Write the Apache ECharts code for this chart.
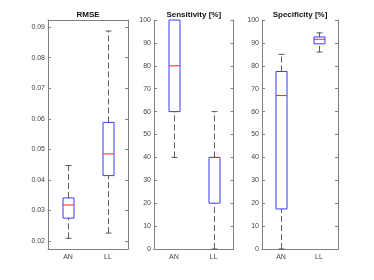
<!DOCTYPE html>
<html><head><meta charset="utf-8">
<script src="https://cdn.jsdelivr.net/npm/echarts@6/dist/echarts.min.js"></script>
<style>html,body{margin:0;padding:0;background:#fff}#c{width:374px;height:280px}</style>
</head><body><div id="c"></div>
<script>
// Data: [low whisker, Q1, median, Q3, high whisker]
const categories = ['AN', 'LL'];
const rmseAN = [0.0209, 0.0275, 0.0318, 0.0341, 0.0447];
const rmseLL = [0.0226, 0.0414, 0.0485, 0.0588, 0.0887];
const sensAN = [40, 60, 80, 100, 100];
const sensLL = [0, 20, 40, 40, 60];
const specAN = [0, 17.5, 67, 77.5, 85];
const specLL = [86, 89.6, 91.6, 92.6, 94.4];
const rmseTicks = [0.02, 0.03, 0.04, 0.05, 0.06, 0.07, 0.08, 0.09];
const pctTicks = [0, 10, 20, 30, 40, 50, 60, 70, 80, 90, 100];
const titles = ['RMSE', 'Sensitivity [%]', 'Specificity [%]'];

const FONT = 'Liberation Sans';
const AX = '#808080';
const grids = [
  {left: 48, top: 20, width: 80, height: 229},
  {left: 154, top: 20, width: 79.5, height: 229},
  {left: 262, top: 20, width: 76, height: 229}
];
const ranges = [
  {min: 0.0174, max: 0.0923, ticks: rmseTicks, fmt: v => v.toFixed(2)},
  {min: 0, max: 100, ticks: pctTicks, fmt: v => String(v)},
  {min: 0, max: 100, ticks: pctTicks, fmt: v => String(v)}
];
const sets = [[rmseAN, rmseLL], [sensAN, sensLL], [specAN, specLL]];

const xAxis = [], yAxis = [], series = [], title = [];
grids.forEach((g, i) => {
  xAxis.push({type: 'category', gridIndex: i, data: categories, position: 'bottom',
    axisLine: {lineStyle: {color: AX, width: 1}},
    axisTick: {inside: true, length: 3, alignWithLabel: true, lineStyle: {color: AX}},
    axisLabel: {fontFamily: FONT, fontSize: 7, color: '#444', margin: 5},
    splitLine: {show: false}});
  xAxis.push({type: 'category', gridIndex: i, data: categories, position: 'top',
    axisLine: {lineStyle: {color: AX, width: 1}},
    axisTick: {inside: true, length: 3, alignWithLabel: true, lineStyle: {color: AX}},
    axisLabel: {show: false}, splitLine: {show: false}});
  const r = ranges[i];
  const common = {type: 'value', gridIndex: i, min: r.min, max: r.max,
    axisLine: {show: true, lineStyle: {color: AX, width: 1}},
    splitLine: {show: false}};
  yAxis.push(Object.assign({}, common, {position: 'left',
    axisTick: {show: true, inside: true, length: 3, lineStyle: {color: AX}, customValues: r.ticks},
    axisLabel: {fontFamily: FONT, fontSize: 7, color: '#444', margin: 3, customValues: r.ticks, formatter: r.fmt}}));
  yAxis.push(Object.assign({}, common, {position: 'right',
    axisTick: {show: true, inside: true, length: 3, lineStyle: {color: AX}, customValues: r.ticks},
    axisLabel: {show: false, customValues: r.ticks}}));
  title.push({text: titles[i], left: g.left + g.width / 2, top: 11, padding: 0, textAlign: 'center',
    textStyle: {fontFamily: FONT, fontSize: 8, fontWeight: 'bold', color: '#111'}});
  series.push({type: 'custom', xAxisIndex: 2 * i, yAxisIndex: 2 * i,
    data: sets[i].map((s, k) => [k].concat(s)),
    encode: {x: 0, y: [1, 2, 3, 4, 5]},
    clip: false,
    renderItem: function (params, api) {
      const c = api.value(0);
      const lo = api.value(1), q1 = api.value(2), med = api.value(3), q3 = api.value(4), hi = api.value(5);
      const pLo = api.coord([c, lo]), pQ1 = api.coord([c, q1]), pMed = api.coord([c, med]);
      const pQ3 = api.coord([c, q3]), pHi = api.coord([c, hi]);
      const x = Math.round(pLo[0]) + 0.5;
      const bw = 11, cw = 6;
      const dash = {stroke: '#333', lineWidth: 0.8, lineDash: [6, 3]};
      const solid = {stroke: '#333', lineWidth: 0.8};
      const ch = [];
      if (hi > q3) {
        ch.push({type: 'line', shape: {x1: x, y1: pQ3[1], x2: x, y2: pHi[1]}, style: dash});
        ch.push({type: 'line', shape: {x1: x - cw / 2, y1: pHi[1], x2: x + cw / 2, y2: pHi[1]}, style: solid});
      }
      if (q1 > lo) {
        ch.push({type: 'line', shape: {x1: x, y1: pLo[1], x2: x, y2: pQ1[1]}, style: dash});
        ch.push({type: 'line', shape: {x1: x - cw / 2, y1: pLo[1], x2: x + cw / 2, y2: pLo[1]}, style: solid});
      }
      ch.push({type: 'rect', shape: {x: x - bw / 2, y: pQ3[1], width: bw, height: pQ1[1] - pQ3[1]},
        style: {fill: 'none', stroke: '#3a3aff', lineWidth: 1}});
      ch.push({type: 'line', shape: {x1: x - bw / 2, y1: pMed[1], x2: x + bw / 2, y2: pMed[1]},
        style: {stroke: '#ff2020', lineWidth: 1}});
      return {type: 'group', children: ch};
    }});
});

const chart = echarts.init(document.getElementById('c'), null, {renderer: 'canvas'});
chart.setOption({backgroundColor: '#fff', animation: false, grid: grids, xAxis, yAxis, series, title});
</script></body></html>
